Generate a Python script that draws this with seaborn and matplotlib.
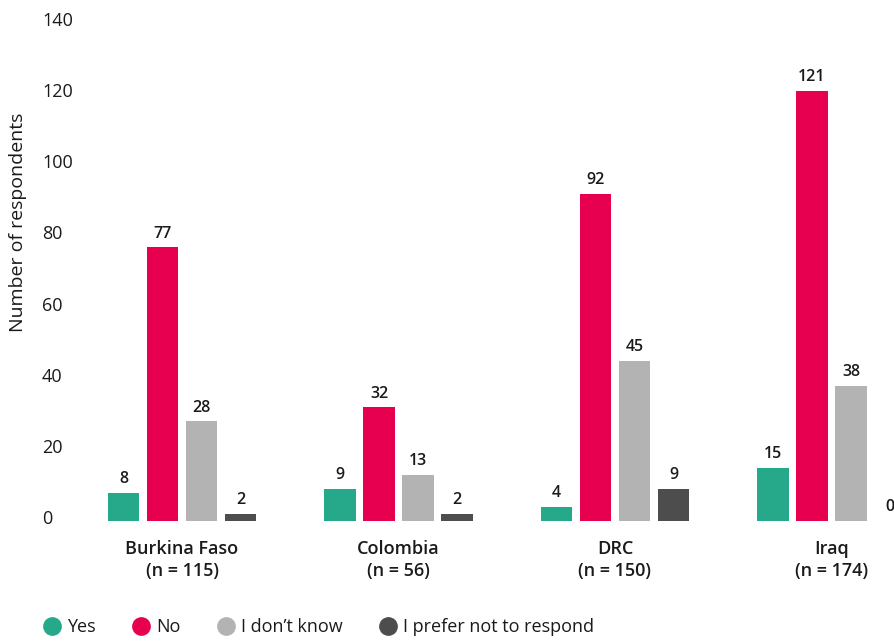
import matplotlib
matplotlib.use("Agg")
import matplotlib.pyplot as plt
from matplotlib.lines import Line2D
from matplotlib.transforms import ScaledTranslation
import pandas as pd
import seaborn as sns

COUNTRIES = ["Burkina Faso\n(n = 115)", "Colombia\n(n = 56)", "DRC\n(n = 150)", "Iraq\n(n = 174)"]
ANSWERS = ["Yes", "No", "I don’t know", "I prefer not to respond"]
YES = [8, 9, 4, 15]
NO = [77, 32, 92, 121]
DONT_KNOW = [28, 13, 45, 38]
NO_RESPONSE = [2, 2, 9, 0]
Y_TICKS = [0, 20, 40, 60, 80, 100, 120, 140]

COLORS = ["#26A98B", "#E6004F", "#B3B3B3", "#4D4D4D"]
TEXT_COLOR = "#1a1a1a"

W, H = 894, 641

rows = []
for answer, values in zip(ANSWERS, [YES, NO, DONT_KNOW, NO_RESPONSE]):
    for country, value in zip(COUNTRIES, values):
        rows.append({"country": country, "answer": answer, "count": value})
df = pd.DataFrame(rows)

sns.set_theme(style="white")
plt.rcParams["font.family"] = ["Open Sans", "DejaVu Sans"]

fig = plt.figure(figsize=(W / 100, H / 100), dpi=100)
# axes runs to the right edge of the figure (reference is cropped there)
left_px, right_px, top_px, bottom_px = 90, 894, 23, 521
ax = fig.add_axes([left_px / W, 1 - bottom_px / H, (right_px - left_px) / W, (bottom_px - top_px) / H])

sns.barplot(
    data=df,
    x="country",
    y="count",
    hue="answer",
    order=COUNTRIES,
    hue_order=ANSWERS,
    palette=COLORS,
    saturation=1,
    width=0.72,
    gap=0.2,
    linewidth=0,
    legend=False,
    ax=ax,
)

for container in ax.containers:
    ax.bar_label(container, padding=4, fontsize=11.5, fontweight="semibold", color=TEXT_COLOR)

x0_px, unit_px = 182, 216.5
ax.set_xlim((left_px - x0_px) / unit_px, (right_px - x0_px) / unit_px)
ax.set_ylim(0, 140)
ax.set_yticks(Y_TICKS)
ax.set_xlabel("")
ax.set_ylabel("")
sns.despine(ax=ax, left=True, bottom=True)
ax.tick_params(axis="y", length=0, pad=34.5, labelsize=13, labelcolor=TEXT_COLOR)
ax.tick_params(axis="x", length=0, pad=14, labelsize=13, labelcolor=TEXT_COLOR)

# tick labels sit a few pixels above the bar baseline in the reference
shift = ScaledTranslation(0, 4 / 100, fig.dpi_scale_trans)
for tick in ax.yaxis.get_major_ticks():
    tick.label1.set_horizontalalignment("left")
    tick.label1.set_transform(tick.label1.get_transform() + shift)
for label in ax.get_xticklabels():
    label.set_fontweight("semibold")
    label.set_linespacing(1.25)

fig.text(18 / W, 1 - 222 / H, "Number of respondents", rotation=90, ha="center", va="center",
         fontsize=14, color=TEXT_COLOR)

handles = [
    Line2D([0], [0], marker="o", linestyle="none", markersize=13.5, markerfacecolor=c, markeredgewidth=0)
    for c in COLORS
]
fig.legend(
    handles,
    ANSWERS,
    loc="center left",
    bbox_to_anchor=(27 / W, 1 - 627 / H),
    ncol=4,
    frameon=False,
    fontsize=13,
    handletextpad=0.3,
    columnspacing=2.05,
    handlelength=1.0,
    labelcolor=TEXT_COLOR,
)

fig.savefig("out.png", dpi=100)
